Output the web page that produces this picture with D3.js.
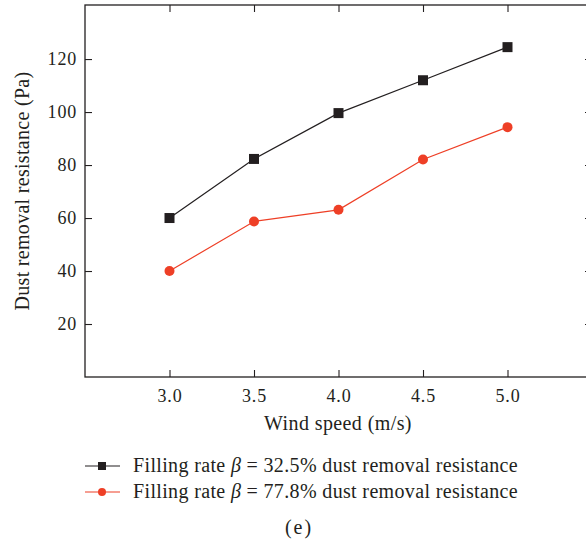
<!DOCTYPE html>
<html><head><meta charset="utf-8">
<script src="https://cdn.jsdelivr.net/npm/d3@7"></script>
<style>body{margin:0;background:#fff;} svg{display:block;} text{font-family:"Liberation Serif",serif;}</style>
</head><body>
<svg id="c" width="586" height="544"></svg>
<script>
const windSpeed = [3.0, 3.5, 4.0, 4.5, 5.0];
const resistance325 = [60, 82.3, 99.6, 112, 124.5];
const resistance778 = [40, 58.7, 63.1, 82.1, 94.3];
const xTicks = [3.0, 3.5, 4.0, 4.5, 5.0];
const yTicks = [20, 40, 60, 80, 100, 120];
const seriesNames = ["Filling rate \u03B2 = 32.5% dust removal resistance", "Filling rate \u03B2 = 77.8% dust removal resistance"];

const svg = d3.select("#c");
const L = 85, R = 592, T = 5, B = 377;
const ink = "#231f20", red = "#ee3f26";
const FF = "Liberation Serif, serif";
const x = d3.scaleLinear().domain([2.5, 5.5]).range([L, R]);
const y = d3.scaleLinear().domain([0, 140.4]).range([B, T]);

svg.append("rect").attr("x", L).attr("y", T).attr("width", R - L).attr("height", B - T)
  .attr("fill", "none").attr("stroke", ink).attr("stroke-width", 1.3);

const fmt = d3.format(".1f");
const ax = (g) => {
  g.attr("font-family", FF).attr("font-size", 18);
  g.select(".domain").remove();
  g.selectAll("line").attr("stroke", ink).attr("stroke-width", 1.1);
  g.selectAll("text").attr("fill", ink).attr("letter-spacing", 0.8);
};

svg.append("g").attr("transform", `translate(0,${B})`)
  .call(d3.axisBottom(x).tickValues(xTicks).tickFormat(fmt).tickSizeInner(-7).tickPadding(12)).call(ax);
svg.append("g").attr("transform", `translate(0,${T})`)
  .call(d3.axisTop(x).tickValues(xTicks).tickFormat("").tickSizeInner(-7)).call(ax);
svg.append("g").attr("transform", `translate(${L},0)`)
  .call(d3.axisLeft(y).tickValues(yTicks).tickSizeInner(-7).tickPadding(8)).call(ax);
svg.append("g").attr("transform", `translate(${R},0)`)
  .call(d3.axisRight(y).tickValues(yTicks).tickFormat("").tickSizeInner(-7)).call(ax);

svg.append("text").attr("x", 338).attr("y", 430).attr("text-anchor", "middle")
  .attr("fill", ink).attr("font-size", 20).attr("letter-spacing", 0.4).text("Wind speed (m/s)");
svg.append("text").attr("transform", "translate(29,191) rotate(-90)").attr("text-anchor", "middle")
  .attr("fill", ink).attr("font-size", 20).attr("letter-spacing", 0.3).text("Dust removal resistance (Pa)");

const line = d3.line().x((d, i) => x(windSpeed[i])).y(d => y(d));
svg.append("path").datum(resistance325).attr("d", line).attr("fill", "none").attr("stroke", ink).attr("stroke-width", 1.2);
svg.append("path").datum(resistance778).attr("d", line).attr("fill", "none").attr("stroke", red).attr("stroke-width", 1.2);

svg.append("g").selectAll("rect").data(resistance325).join("rect")
  .attr("x", (d, i) => x(windSpeed[i]) - 5).attr("y", d => y(d) - 5)
  .attr("width", 10).attr("height", 10).attr("fill", ink);
svg.append("g").selectAll("circle").data(resistance778).join("circle")
  .attr("cx", (d, i) => x(windSpeed[i])).attr("cy", d => y(d)).attr("r", 5).attr("fill", red);

const lg = svg.append("g");
const lyy = [466, 492];
const cols = [ink, red];
seriesNames.forEach((name, i) => {
  lg.append("line").attr("x1", 85).attr("x2", 120).attr("y1", lyy[i]).attr("y2", lyy[i]).attr("stroke", cols[i]).attr("stroke-width", 1.2);
  if (i === 0) lg.append("rect").attr("x", 98).attr("y", lyy[i] - 4).attr("width", 8).attr("height", 8).attr("fill", ink);
  else lg.append("circle").attr("cx", 102).attr("cy", lyy[i]).attr("r", 4).attr("fill", red);
  const t = lg.append("text").attr("x", 133).attr("y", lyy[i] + 6).attr("fill", ink)
    .attr("font-size", 20).attr("letter-spacing", 0.35);
  const parts = name.split("\u03B2");
  t.append("tspan").text(parts[0]);
  t.append("tspan").attr("font-style", "italic").text("\u03B2");
  t.append("tspan").text(parts[1]);
});

svg.append("text").attr("x", 299).attr("y", 534).attr("text-anchor", "middle").attr("fill", ink)
  .attr("font-size", 20).attr("letter-spacing", 2).text("(e)");
</script>
</body></html>
